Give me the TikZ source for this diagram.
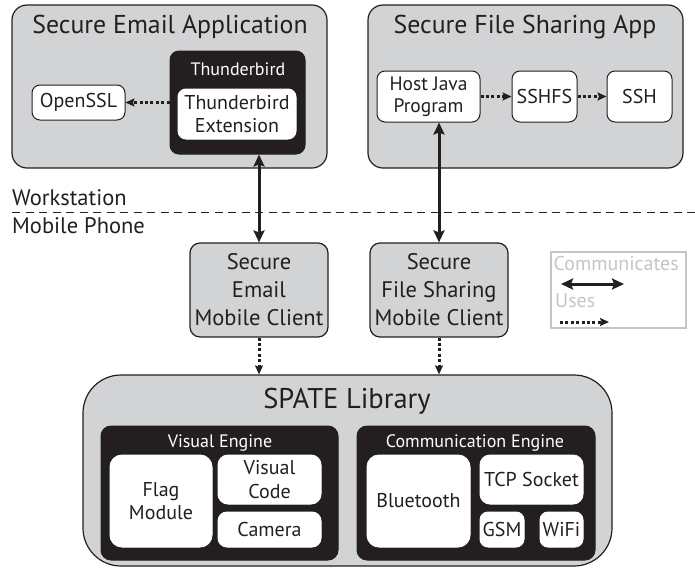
\documentclass[tikz,border=0pt]{standalone}
\usepackage{fontspec}
\setmainfont{PT Sans}
\usetikzlibrary{arrows.meta}
\definecolor{ink}{HTML}{231F20}
\definecolor{panel}{HTML}{D2D3D5}
\definecolor{leg}{HTML}{C4C5C7}
\begin{document}
\begin{tikzpicture}[x=1pt,y=-1pt,
  panelbox/.style={draw=ink, fill=panel, line width=1.2pt, rounded corners=15pt, inner sep=0pt},
  blackbox/.style={draw=ink, fill=ink, line width=1pt, rounded corners=9pt, inner sep=0pt},
  whitebox/.style={draw=ink, fill=white, line width=1pt, rounded corners=8pt, inner sep=0pt, text=ink, align=center, font=\fontsize{20}{23.5}\selectfont},
  clientbox/.style={draw=ink, fill=panel, line width=1.2pt, rounded corners=10pt, inner sep=0pt, text=ink, align=center, font=\fontsize{22.5}{28}\selectfont},
  titletext/.style={anchor=base, text=ink, inner sep=0pt, font=\fontsize{25.8}{30}\selectfont},
  headtext/.style={anchor=base, text=white, inner sep=0pt, font=\fontsize{18}{20}\selectfont},
  labeltext/.style={anchor=base west, text=ink, inner sep=0pt, font=\fontsize{22.5}{26}\selectfont},
  legtext/.style={anchor=base west, text=leg, inner sep=0pt, font=\fontsize{20}{24}\selectfont},
  comm/.style={draw=ink, line width=3pt, {Stealth[length=12pt,width=11pt,inset=2pt]}-{Stealth[length=12pt,width=11pt,inset=2pt]}},
  uses/.style={draw=ink, line width=3pt, dash pattern=on 3pt off 2.4pt, -{Stealth[length=9pt,width=8pt,inset=1.5pt]}},
]
\useasboundingbox (0,0) rectangle (695,568);

% ---------- Secure Email Application ----------
\node[panelbox, minimum width=315pt, minimum height=163pt] (emailapp) at (169.5,86.5) {};
\node[titletext] (emailtitle) at (170,33) {Secure Email Application};
\node[blackbox, minimum width=135pt, minimum height=103pt] (tbird) at (237.5,102.5) {};
\node[headtext] (tbirdtitle) at (238,75) {Thunderbird};
\node[whitebox, draw=white, minimum width=118pt, minimum height=50pt] (tbext) at (237,114) {Thunderbird\\Extension};
\node[whitebox, minimum width=93pt, minimum height=35pt] (openssl) at (78.5,102.5) {OpenSSL};
\draw[uses] (tbird.west |- openssl.east) -- (openssl.east);

% ---------- Secure File Sharing App ----------
\node[panelbox, minimum width=315pt, minimum height=163pt] (fileapp) at (525.5,86.5) {};
\node[titletext] (filetitle) at (525,33) {Secure File Sharing App};
\node[whitebox, minimum width=103pt, minimum height=51pt, font=\fontsize{19.5}{22}\selectfont] (hostjava) at (428.5,96.5) {Host Java\\Program};
\node[whitebox, minimum width=65pt, minimum height=51pt] (sshfs) at (544.5,96.5) {SSHFS};
\node[whitebox, minimum width=65pt, minimum height=51pt] (ssh) at (639.5,96.5) {SSH};
\draw[uses] (hostjava.east) -- (sshfs.west);
\draw[uses] (sshfs.east) -- (ssh.west);

% ---------- Divider ----------
\coordinate (divL) at (12,212.5);
\coordinate (divR) at (695,212.5);
\draw[ink, line width=1.4pt, dash pattern=on 8pt off 5.5pt] (divL) -- (divR);
\node[labeltext] (workstation) at (12,205.5) {Workstation};
\node[labeltext] (mobile) at (12,233) {Mobile Phone};

% ---------- Mobile clients ----------
\node[clientbox, minimum width=138pt, minimum height=94pt] (emailclient) at (259,290) {Secure\\Email\\Mobile Client};
\node[clientbox, minimum width=138pt, minimum height=94pt] (fileclient) at (439,290) {Secure\\File Sharing\\Mobile Client};
\draw[comm] (emailclient.north |- tbird.south) -- (emailclient.north);
\draw[comm] (fileclient.north |- hostjava.south) -- (fileclient.north);

% ---------- Legend ----------
\node[draw=leg, line width=1.6pt, minimum width=135pt, minimum height=76pt, inner sep=0pt] (legend) at (618.5,290) {};
\node[legtext] (legcomm) at (553.5,270) {Communicates};
\node[legtext] (leguses) at (555,307) {Uses};
\coordinate (lc1) at (561,284);
\coordinate (lc2) at (624,284);
\coordinate (lu1) at (560,322);
\coordinate (lu2) at (609,322);
\draw[comm] (lc1) -- (lc2);
\draw[uses] (lu1) -- (lu2);

% ---------- SPATE Library ----------
\node[panelbox, rounded corners=38pt, minimum width=529pt, minimum height=191pt] (spate) at (347.5,470.5) {};
\node[titletext, font=\fontsize{28.5}{32}\selectfont] (spatetitle) at (347,408) {SPATE Library};
\draw[uses] (emailclient.south) -- (emailclient.south |- spate.north);
\draw[uses] (fileclient.south) -- (fileclient.south |- spate.north);

\node[blackbox, rounded corners=10pt, minimum width=237pt, minimum height=134pt] (visual) at (219.5,493) {};
\node[headtext] (visualtitle) at (220,447) {Visual Engine};
\node[whitebox, draw=white, rounded corners=12pt, minimum width=102pt, minimum height=92pt, font=\fontsize{20}{22.5}\selectfont] (flag) at (161,501) {Flag\\Module};
\node[whitebox, draw=white, rounded corners=10pt, minimum width=103pt, minimum height=49pt] (vcode) at (269.5,479.5) {Visual\\Code};
\node[whitebox, draw=white, rounded corners=9pt, minimum width=103pt, minimum height=35pt] (camera) at (269.5,529.5) {Camera};

\node[blackbox, rounded corners=10pt, minimum width=238pt, minimum height=134pt] (commeng) at (476,493) {};
\node[headtext] (commtitle) at (475,447) {Communication Engine};
\node[whitebox, draw=white, rounded corners=12pt, minimum width=103pt, minimum height=92pt] (bluetooth) at (418.5,501) {Bluetooth};
\node[whitebox, draw=white, rounded corners=10pt, minimum width=103pt, minimum height=49pt] (tcp) at (531.5,479.5) {TCP Socket};
\node[whitebox, draw=white, rounded corners=8pt, minimum width=44pt, minimum height=35pt] (gsm) at (502,529.5) {GSM};
\node[whitebox, draw=white, rounded corners=8pt, minimum width=43pt, minimum height=35pt] (wifi) at (561.5,529.5) {WiFi};
\end{tikzpicture}
\end{document}
